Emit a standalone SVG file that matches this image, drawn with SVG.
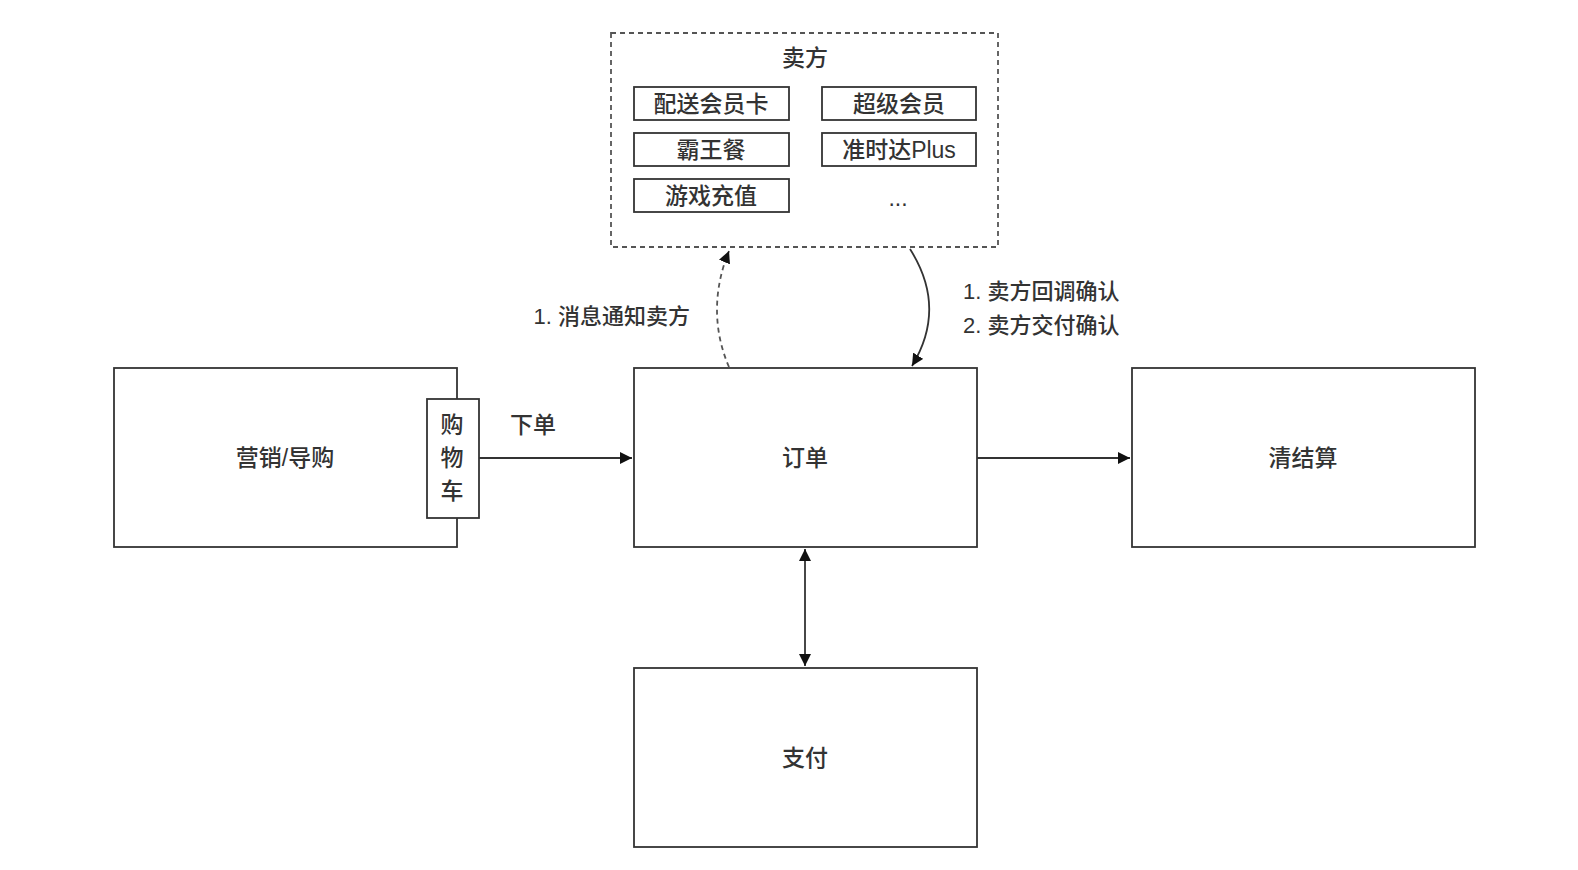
<svg xmlns="http://www.w3.org/2000/svg" width="1578" height="870" viewBox="0 0 1578 870">
<style>
.box{fill:#fff;stroke:#333;stroke-width:1.8}
.ibox{fill:#fff;stroke:#333;stroke-width:1.8}
.dash{fill:none;stroke:#555;stroke-width:1.8;stroke-dasharray:5 4}
.t{font-family:"Liberation Sans","Noto Sans CJK SC",sans-serif;font-size:23px;font-weight:500;fill:#333;text-anchor:middle;dominant-baseline:central}
.l{font-family:"Liberation Sans","Noto Sans CJK SC",sans-serif;font-size:22px;font-weight:500;fill:#333;dominant-baseline:central}
.c{fill:none;stroke:#333;stroke-width:1.8}
</style>
<defs>
<marker id="ah" viewBox="0 0 10 10" refX="10" refY="5" markerWidth="12" markerHeight="12" markerUnits="userSpaceOnUse" orient="auto-start-reverse">
<path d="M0,0 L10,5 L0,10 z" fill="#111"/>
</marker>
</defs>
<rect width="1578" height="870" fill="#fff"/>
<g id="seller">
<rect x="611" y="33" width="387" height="214" class="dash"/>
<text x="805" y="58" class="t">卖方</text>
<rect x="634" y="87" width="155" height="33" class="ibox"/>
<text x="711" y="104" class="t">配送会员卡</text>
<rect x="822" y="87" width="154" height="33" class="ibox"/>
<text x="899" y="104" class="t">超级会员</text>
<rect x="634" y="133" width="155" height="33" class="ibox"/>
<text x="711" y="150" class="t">霸王餐</text>
<rect x="822" y="133" width="154" height="33" class="ibox"/>
<text x="899" y="150" class="t">准时达Plus</text>
<rect x="634" y="179" width="155" height="33" class="ibox"/>
<text x="711" y="196" class="t">游戏充值</text>
<text x="898" y="198" class="t">...</text>
</g>
<g id="marketing">
<rect x="114" y="368" width="343" height="179" class="box"/>
<text x="285" y="458" class="t">营销/导购</text>
</g>
<g id="cart">
<rect x="427" y="399" width="52" height="119" class="box"/>
<text x="452" y="425" class="t">购</text>
<text x="452" y="458" class="t">物</text>
<text x="452" y="491" class="t">车</text>
</g>
<g id="order">
<rect x="634" y="368" width="343" height="179" class="box"/>
<text x="805" y="458" class="t">订单</text>
</g>
<g id="settle">
<rect x="1132" y="368" width="343" height="179" class="box"/>
<text x="1303" y="458" class="t">清结算</text>
</g>
<g id="pay">
<rect x="634" y="668" width="343" height="179" class="box"/>
<text x="805" y="758" class="t">支付</text>
</g>
<g id="connectors">
<line x1="479" y1="458" x2="632" y2="458" class="c" marker-end="url(#ah)"/>
<text x="533" y="425" class="t">下单</text>
<line x1="977" y1="458" x2="1130" y2="458" class="c" marker-end="url(#ah)"/>
<line x1="805" y1="549" x2="805" y2="666" class="c" marker-start="url(#ah)" marker-end="url(#ah)"/>
<path d="M729,367 C713,330 713,290 729,251" class="dash" marker-end="url(#ah)"/>
<text x="690" y="316" class="l" text-anchor="end">1. 消息通知卖方</text>
<path d="M910,249 C936,290 934,330 912,366" class="c" marker-end="url(#ah)"/>
<text x="963" y="291" class="l">1. 卖方回调确认</text>
<text x="963" y="325" class="l">2. 卖方交付确认</text>
</g>
</svg>
